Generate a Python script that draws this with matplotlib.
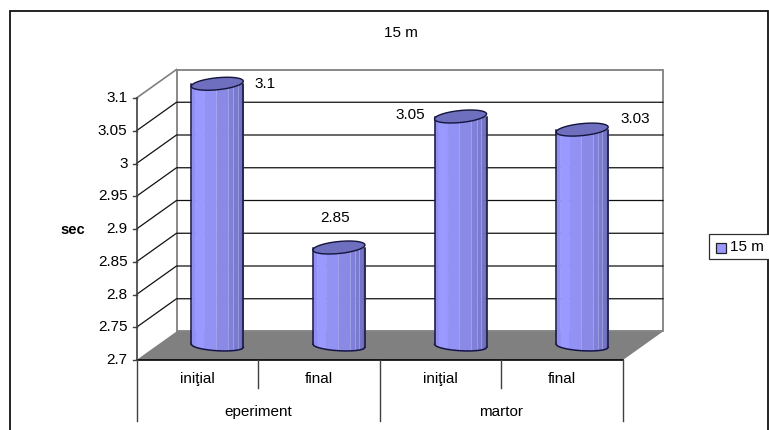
import matplotlib
matplotlib.use("Agg")
import matplotlib.pyplot as plt
from matplotlib.patches import Polygon, Rectangle
import numpy as np

plt.rcParams['font.family'] = ['Liberation Sans', 'DejaVu Sans']

labels = ["iniţial", "final", "iniţial", "final"]
groups = ["eperiment", "martor"]
values = [3.1, 2.85, 3.05, 3.03]
value_labels = ["3.1", "2.85", "3.05", "3.03"]
yticks = [2.7, 2.75, 2.8, 2.85, 2.9, 2.95, 3, 3.05, 3.1]
yticklabels = ["2.7", "2.75", "2.8", "2.85", "2.9", "2.95", "3", "3.05", "3.1"]
series = "15 m"

W, H = 769, 430
FS = 11
fig = plt.figure(figsize=(W / 100, H / 100), dpi=100)

# border of the chart area, runs off the bottom and right of the picture
bg = fig.add_axes([0, 0, 1, 1])
bg.set_xlim(0, W)
bg.set_ylim(H, 0)
bg.axis('off')
bg.add_patch(Rectangle((9.5, 10.5), 758.5, 430, fc='white', ec='#111111', lw=1.3))

# axes = front plane of the 3d box
x0, x1, y_bot, y_top = 136.5, 623, 360, 98
ax = fig.add_axes([x0 / W, 1 - y_bot / H, (x1 - x0) / W, (y_bot - y_top) / H])
ax.set_xlim(0, 4)
ax.set_ylim(2.7, 3.1)
ax.axis('off')
ax.patch.set_visible(False)

ux = 4 / (x1 - x0)
uy = 0.4 / (y_bot - y_top)
dx = 40 * ux
dy = 28.5 * uy

# back wall and floor
ax.add_patch(Polygon([(dx, 2.7 + dy), (4 + dx, 2.7 + dy), (4 + dx, 3.1 + dy), (dx, 3.1 + dy)],
                     closed=True, fc='white', ec='#808080', lw=1.3, clip_on=False, zorder=1))
ax.plot([0, dx], [3.1, 3.1 + dy], color='#808080', lw=1.2, clip_on=False, zorder=1)
ax.add_patch(Polygon([(0, 2.7), (4, 2.7), (4 + dx, 2.7 + dy), (dx, 2.7 + dy)],
                     closed=True, fc='#808080', ec='none', clip_on=False, zorder=2))
ax.plot([0, 4], [2.7, 2.7], color='black', lw=1.2, clip_on=False, zorder=2)

# grid lines on side and back wall
for t in yticks[1:-1]:
    ax.plot([0, dx, 4 + dx], [t, t + dy, t + dy], color='#111111', lw=0.9, clip_on=False, zorder=2)

# y axis
ax.plot([0, 0], [2.7, 3.1], color='#404040', lw=1.2, clip_on=False, zorder=3)
for t, s in zip(yticks, yticklabels):
    ax.plot([-4 * ux, 0], [t, t], color='#404040', lw=1.0, clip_on=False, zorder=3)
    ax.annotate(s, (0, t), xytext=(-9, 0), textcoords='offset pixels', ha='right', va='center',
                fontsize=FS, annotation_clip=False)
ax.annotate("sec", (0, 2.9), xytext=(-76, -1), textcoords='offset pixels', ha='left', va='center',
            fontsize=10.5, fontweight='bold', annotation_clip=False)

# category axis
for i in range(5):
    length = 61 if i % 2 == 0 else 28
    ax.plot([i, i], [2.7, 2.7 - length * uy], color='#404040', lw=1.0, clip_on=False, zorder=3)
for i, s in enumerate(labels):
    ax.text(i + 0.5, 2.7 - 19 * uy, s, ha='center', va='center', fontsize=FS, clip_on=False)
for i, s in enumerate(groups):
    ax.text(2 * i + 1, 2.7 - 52 * uy, s, ha='center', va='center', fontsize=FS, clip_on=False)

# cylinders, uneven stripes give the shading
bar_w = 52 * ux
edges = np.array([-1, -0.85, -0.5, -0.05, 0.42, 0.62, 0.78, 0.9, 1])
band_cols = ['#9090f2', '#9999ff', '#9292f4', '#8a8ae6', '#8080d8', '#7a7ad0', '#7474c6', '#6c6cb8']
light_lines = [-0.05, 0.42, 0.62, 0.78]
label_off = [(48, 0), (-4, 29), (-50, 2), (53, 11)]
outline = '#14143c'
t_par = np.linspace(0, 2 * np.pi, 80)
for i, v in enumerate(values):
    xc = i + 0.5 + dx / 2
    base = 2.7 + dy / 2
    top = v + dy / 2
    for a, b, col in zip(edges[:-1], edges[1:], band_cols):
        xs = np.linspace(a, b, 8)
        ell = (5 * np.sqrt(1 - xs ** 2) + 1.5 * xs) * uy
        ax.fill_between(xc + xs * bar_w / 2, base - ell, top, color=col, lw=0.3,
                        clip_on=False, zorder=4)
    for a in light_lines:
        ax.plot([xc + a * bar_w / 2] * 2, [base - 4 * uy, top], color='#b4b4f0', lw=0.5, alpha=0.8,
                clip_on=False, zorder=4)
    # outline of the body
    xs = np.linspace(-1, 1, 60)
    ell = (5 * np.sqrt(1 - xs ** 2) + 1.5 * xs) * uy
    ax.plot(xc + xs * bar_w / 2, base - ell, color=outline, lw=1.1, clip_on=False, zorder=5)
    ax.plot([xc - bar_w / 2] * 2, [base + 1.5 * uy, top], color=outline, lw=1.1, clip_on=False, zorder=5)
    ax.plot([xc + bar_w / 2] * 2, [base - 1.5 * uy, top], color=outline, lw=1.1, clip_on=False, zorder=5)
    # slanted top
    ex = xc + np.cos(t_par) * bar_w / 2
    ey = top + (6 * np.sin(t_par) + 2.5 * np.cos(t_par)) * uy
    ax.fill(ex, ey, fc='#6f6fc0', ec=outline, lw=1.0, clip_on=False, zorder=6)
    ax.annotate(value_labels[i], (xc, top), xytext=label_off[i], textcoords='offset pixels',
                ha='center', va='center', fontsize=FS, annotation_clip=False, zorder=7)

# title and legend, placed in pixels
bg.text(401, 33, series, ha='center', va='center', fontsize=FS)
bg.add_patch(Rectangle((708.5, 233.5), 62, 25.5, fc='white', ec='#303030', lw=0.9, clip_on=False))
bg.add_patch(Rectangle((715.5, 243), 10, 9.5, fc='#9999ff', ec='#222222', lw=0.9))
bg.text(730, 247, series, ha='left', va='center', fontsize=FS)

fig.savefig("out.png", dpi=100)
